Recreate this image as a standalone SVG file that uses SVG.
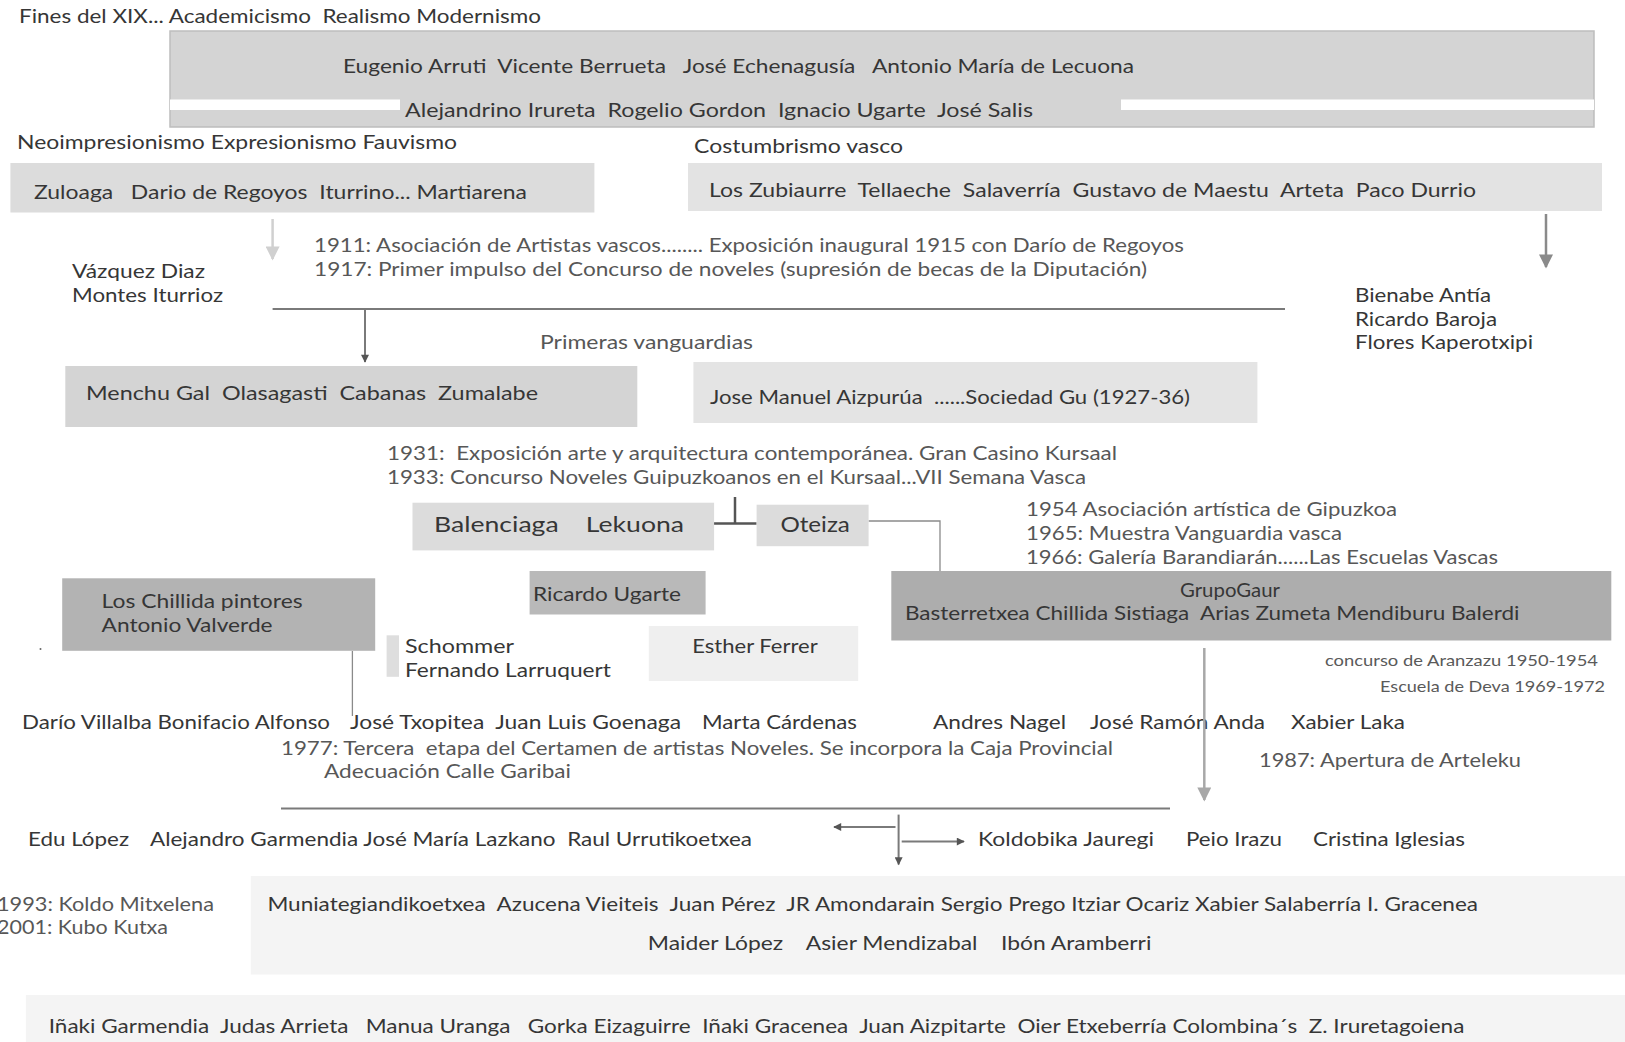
<svg xmlns="http://www.w3.org/2000/svg" width="1625" height="1042" viewBox="0 0 1625 1042">
<defs>
<style>
text{font-family:Lato,"Open Sans","Liberation Sans",sans-serif;font-size:19px;fill:#363636;white-space:pre;}
.n{fill:#575757;}
.s{fill:#5a5a5a;font-size:16px;}
.b{font-size:21px;}
.ln{stroke:#7a7a7a;stroke-width:2;fill:none;}
.thin{stroke:#8a8a8a;stroke-width:1.3;fill:none;}
</style>
<marker id="ah" viewBox="0 0 10 10" refX="9" refY="5" markerWidth="12" markerHeight="8" orient="auto" markerUnits="userSpaceOnUse">
<path d="M0,0 L10,5 L0,10 z" fill="#555"/>
</marker>
<marker id="ahg" viewBox="0 0 10 10" refX="9" refY="5" markerWidth="24" markerHeight="14" orient="auto" markerUnits="userSpaceOnUse">
<path d="M0,0 L10,5 L0,10 z" fill="#a8a8a8"/>
</marker>
<marker id="ahl" viewBox="0 0 10 10" refX="9" refY="5" markerWidth="20" markerHeight="14" orient="auto" markerUnits="userSpaceOnUse">
<path d="M0,0 L10,5 L0,10 z" fill="#d0d0d0"/>
</marker>
<marker id="ahd" viewBox="0 0 10 10" refX="9" refY="5" markerWidth="22" markerHeight="14" orient="auto" markerUnits="userSpaceOnUse">
<path d="M0,0 L10,5 L0,10 z" fill="#8a8a8a"/>
</marker>
</defs>
<rect width="1625" height="1042" fill="#ffffff"/>

<g id="labels">
<text xml:space="preserve" x="19" y="23" textLength="522" lengthAdjust="spacingAndGlyphs">Fines del XIX... Academicismo  Realismo Modernismo</text>
<text xml:space="preserve" x="17" y="149" textLength="440" lengthAdjust="spacingAndGlyphs">Neoimpresionismo Expresionismo Fauvismo</text>
<text xml:space="preserve" x="694" y="153" textLength="209" lengthAdjust="spacingAndGlyphs">Costumbrismo vasco</text>
<text xml:space="preserve" class="n" x="314" y="252" textLength="870" lengthAdjust="spacingAndGlyphs">1911: Asociación de Artistas vascos........ Exposición inaugural 1915 con Darío de Regoyos</text>
<text xml:space="preserve" class="n" x="314" y="276" textLength="833" lengthAdjust="spacingAndGlyphs">1917: Primer impulso del Concurso de noveles (supresión de becas de la Diputación)</text>
<text xml:space="preserve" x="72" y="278" textLength="133" lengthAdjust="spacingAndGlyphs">Vázquez Diaz</text>
<text xml:space="preserve" x="72" y="302" textLength="151" lengthAdjust="spacingAndGlyphs">Montes Iturrioz</text>
<text xml:space="preserve" x="1355" y="302" textLength="136" lengthAdjust="spacingAndGlyphs">Bienabe Antía</text>
<text xml:space="preserve" x="1355" y="326" textLength="142" lengthAdjust="spacingAndGlyphs">Ricardo Baroja</text>
<text xml:space="preserve" x="1355" y="349" textLength="178" lengthAdjust="spacingAndGlyphs">Flores Kaperotxipi</text>
<text xml:space="preserve" class="n" x="540" y="349" textLength="213" lengthAdjust="spacingAndGlyphs">Primeras vanguardias</text>
<text xml:space="preserve" class="n" x="387" y="460" textLength="730" lengthAdjust="spacingAndGlyphs">1931:  Exposición arte y arquitectura contemporánea. Gran Casino Kursaal</text>
<text xml:space="preserve" class="n" x="387" y="484" textLength="699" lengthAdjust="spacingAndGlyphs">1933: Concurso Noveles Guipuzkoanos en el Kursaal...VII Semana Vasca</text>
<text xml:space="preserve" class="n" x="1026" y="516" textLength="371" lengthAdjust="spacingAndGlyphs">1954 Asociación artística de Gipuzkoa</text>
<text xml:space="preserve" class="n" x="1026" y="540" textLength="316" lengthAdjust="spacingAndGlyphs">1965: Muestra Vanguardia vasca</text>
<text xml:space="preserve" class="n" x="1026" y="564" textLength="472" lengthAdjust="spacingAndGlyphs">1966: Galería Barandiarán......Las Escuelas Vascas</text>
<text xml:space="preserve" class="s" x="1325" y="666" textLength="273" lengthAdjust="spacingAndGlyphs">concurso de Aranzazu 1950-1954</text>
<text xml:space="preserve" class="s" x="1380" y="692" textLength="225" lengthAdjust="spacingAndGlyphs">Escuela de Deva 1969-1972</text>
<text xml:space="preserve" x="405" y="653" textLength="109" lengthAdjust="spacingAndGlyphs">Schommer</text>
<text xml:space="preserve" x="405" y="677" textLength="206" lengthAdjust="spacingAndGlyphs">Fernando Larruquert</text>
<circle cx="40.5" cy="649" r="1" fill="#666"/>
<text xml:space="preserve" x="22" y="729" textLength="308" lengthAdjust="spacingAndGlyphs">Darío Villalba Bonifacio Alfonso</text>
<text xml:space="preserve" x="350" y="729" textLength="331" lengthAdjust="spacingAndGlyphs">José Txopitea  Juan Luis Goenaga</text>
<text xml:space="preserve" x="702" y="729" textLength="155" lengthAdjust="spacingAndGlyphs">Marta Cárdenas</text>
<text xml:space="preserve" x="933" y="729" textLength="133" lengthAdjust="spacingAndGlyphs">Andres Nagel</text>
<text xml:space="preserve" x="1090" y="729" textLength="175" lengthAdjust="spacingAndGlyphs">José Ramón Anda</text>
<text xml:space="preserve" x="1291" y="729" textLength="114" lengthAdjust="spacingAndGlyphs">Xabier Laka</text>
<text xml:space="preserve" class="n" x="281" y="755" textLength="832" lengthAdjust="spacingAndGlyphs">1977: Tercera  etapa del Certamen de artistas Noveles. Se incorpora la Caja Provincial</text>
<text xml:space="preserve" class="n" x="324" y="778" textLength="247" lengthAdjust="spacingAndGlyphs">Adecuación Calle Garibai</text>
<text xml:space="preserve" class="n" x="1259" y="767" textLength="262" lengthAdjust="spacingAndGlyphs">1987: Apertura de Arteleku</text>
<text xml:space="preserve" x="28" y="846" textLength="101" lengthAdjust="spacingAndGlyphs">Edu López</text>
<text xml:space="preserve" x="150" y="846" textLength="602" lengthAdjust="spacingAndGlyphs">Alejandro Garmendia José María Lazkano  Raul Urrutikoetxea</text>
<text xml:space="preserve" x="978" y="846" textLength="176" lengthAdjust="spacingAndGlyphs">Koldobika Jauregi</text>
<text xml:space="preserve" x="1186" y="846" textLength="96" lengthAdjust="spacingAndGlyphs">Peio Irazu</text>
<text xml:space="preserve" x="1313" y="846" textLength="152" lengthAdjust="spacingAndGlyphs">Cristina Iglesias</text>
<text xml:space="preserve" class="n" x="-3" y="911" textLength="217" lengthAdjust="spacingAndGlyphs">1993: Koldo Mitxelena</text>
<text xml:space="preserve" class="n" x="-3" y="934" textLength="171" lengthAdjust="spacingAndGlyphs">2001: Kubo Kutxa</text>
</g>

<g id="connectors">
<line class="ln" x1="272.6" y1="309" x2="1285" y2="309"/>
<line class="ln" x1="365" y1="309" x2="365" y2="362" marker-end="url(#ah)"/>
<line x1="272.6" y1="219" x2="272.6" y2="259" stroke="#d0d0d0" stroke-width="2.5" marker-end="url(#ahl)"/>
<line x1="1546" y1="214" x2="1546" y2="267" stroke="#8a8a8a" stroke-width="2.5" marker-end="url(#ahd)"/>
<line x1="714" y1="523.5" x2="756.6" y2="523.5" stroke="#555" stroke-width="2.5"/>
<line x1="735" y1="497" x2="735" y2="523.5" stroke="#555" stroke-width="2.5"/>
<polyline class="thin" points="868.5,521 940,521 940,571"/>
<line class="thin" x1="352.4" y1="651" x2="352.4" y2="716"/>
<line x1="1204.3" y1="648" x2="1204.3" y2="800" stroke="#a8a8a8" stroke-width="2.5" marker-end="url(#ahg)"/>
<line class="ln" x1="281" y1="808.5" x2="1170" y2="808.5"/>
<line class="ln" x1="895.5" y1="827" x2="834" y2="827" marker-end="url(#ah)"/>
<line class="ln" x1="898.6" y1="814.6" x2="898.6" y2="864.5" marker-end="url(#ah)"/>
<line class="ln" x1="901.7" y1="841.6" x2="964" y2="841.6" marker-end="url(#ah)"/>
</g>

<g id="node-academicismo">
<rect x="170" y="31" width="1424" height="96" fill="#d4d4d4" stroke="#bdbdbd" stroke-width="1.5"/>
<rect x="170" y="99.5" width="230" height="10.5" fill="#ffffff"/>
<rect x="1121" y="99.5" width="473" height="10.5" fill="#ffffff"/>
<text xml:space="preserve" x="343" y="72.5" textLength="791" lengthAdjust="spacingAndGlyphs">Eugenio Arruti  Vicente Berrueta   José Echenagusía   Antonio María de Lecuona</text>
<text xml:space="preserve" x="405" y="117" textLength="628" lengthAdjust="spacingAndGlyphs">Alejandrino Irureta  Rogelio Gordon  Ignacio Ugarte  José Salis</text>
</g>

<g id="node-zuloaga">
<rect x="10.4" y="163" width="584" height="49.5" fill="#dcdcdc"/>
<text xml:space="preserve" x="34" y="199" textLength="493" lengthAdjust="spacingAndGlyphs">Zuloaga   Dario de Regoyos  Iturrino... Martiarena</text>
</g>

<g id="node-costumbrismo">
<rect x="688" y="163" width="914" height="48" fill="#e3e3e3"/>
<text xml:space="preserve" x="709" y="197" textLength="767" lengthAdjust="spacingAndGlyphs">Los Zubiaurre  Tellaeche  Salaverría  Gustavo de Maestu  Arteta  Paco Durrio</text>
</g>

<g id="node-menchu">
<rect x="65.3" y="366" width="572" height="61" fill="#d4d4d4"/>
<text xml:space="preserve" x="86" y="400" textLength="452" lengthAdjust="spacingAndGlyphs">Menchu Gal  Olasagasti  Cabanas  Zumalabe</text>
</g>

<g id="node-aizpurua">
<rect x="693.4" y="362" width="564" height="61" fill="#e4e4e4"/>
<text xml:space="preserve" x="710" y="404" textLength="480" lengthAdjust="spacingAndGlyphs">Jose Manuel Aizpurúa  ......Sociedad Gu (1927-36)</text>
</g>

<g id="node-balenciaga">
<rect x="412.5" y="502.7" width="301.6" height="47.7" fill="#dcdcdc"/>
<text xml:space="preserve" class="b" x="434" y="532" textLength="250" lengthAdjust="spacingAndGlyphs">Balenciaga    Lekuona</text>
</g>

<g id="node-oteiza">
<rect x="756.6" y="504.7" width="112" height="41.5" fill="#dcdcdc"/>
<text xml:space="preserve" class="b" x="780.4" y="532" textLength="69.5" lengthAdjust="spacingAndGlyphs">Oteiza</text>
</g>

<g id="node-ugarte">
<rect x="529.6" y="571" width="176" height="43.5" fill="#b9b9b9"/>
<text xml:space="preserve" x="533" y="601" textLength="148" lengthAdjust="spacingAndGlyphs">Ricardo Ugarte</text>
</g>

<g id="node-gaur">
<rect x="891.3" y="571" width="720" height="69.5" fill="#adadad"/>
<text xml:space="preserve" x="1230" y="597" text-anchor="middle" textLength="100" lengthAdjust="spacingAndGlyphs">GrupoGaur</text>
<text xml:space="preserve" x="905" y="620" textLength="614.5" lengthAdjust="spacingAndGlyphs">Basterretxea Chillida Sistiaga  Arias Zumeta Mendiburu Balerdi</text>
</g>

<g id="node-chillida">
<rect x="62.2" y="578.3" width="313" height="72.5" fill="#b3b3b3"/>
<text xml:space="preserve" x="101.6" y="608" textLength="201" lengthAdjust="spacingAndGlyphs">Los Chillida pintores</text>
<text xml:space="preserve" x="101.6" y="631.5" textLength="171" lengthAdjust="spacingAndGlyphs">Antonio Valverde</text>
</g>

<g id="node-schommer-bar">
<rect x="386.6" y="635.3" width="12.4" height="41.5" fill="#dedede"/>
</g>

<g id="node-ferrer">
<rect x="648.8" y="626" width="209.4" height="55" fill="#efefef"/>
<text xml:space="preserve" x="692.3" y="653" textLength="125.4" lengthAdjust="spacingAndGlyphs">Esther Ferrer</text>
</g>

<g id="node-muniategi">
<rect x="250.8" y="876" width="1374.2" height="98.5" fill="#f4f4f4"/>
<text xml:space="preserve" x="267.4" y="911" textLength="1210.6" lengthAdjust="spacingAndGlyphs">Muniategiandikoetxea  Azucena Vieiteis  Juan Pérez  JR Amondarain Sergio Prego Itziar Ocariz Xabier Salaberría I. Gracenea</text>
<text xml:space="preserve" x="647.8" y="950.4" textLength="503.6" lengthAdjust="spacingAndGlyphs">Maider López    Asier Mendizabal    Ibón Aramberri</text>
</g>

<g id="node-garmendia">
<rect x="25.9" y="995" width="1599.1" height="47" fill="#f4f4f4"/>
<text xml:space="preserve" x="48.7" y="1033" textLength="1415.7" lengthAdjust="spacingAndGlyphs">Iñaki Garmendia  Judas Arrieta   Manua Uranga   Gorka Eizaguirre  Iñaki Gracenea  Juan Aizpitarte  Oier Etxeberría Colombina´s  Z. Iruretagoiena</text>
</g>
</svg>
